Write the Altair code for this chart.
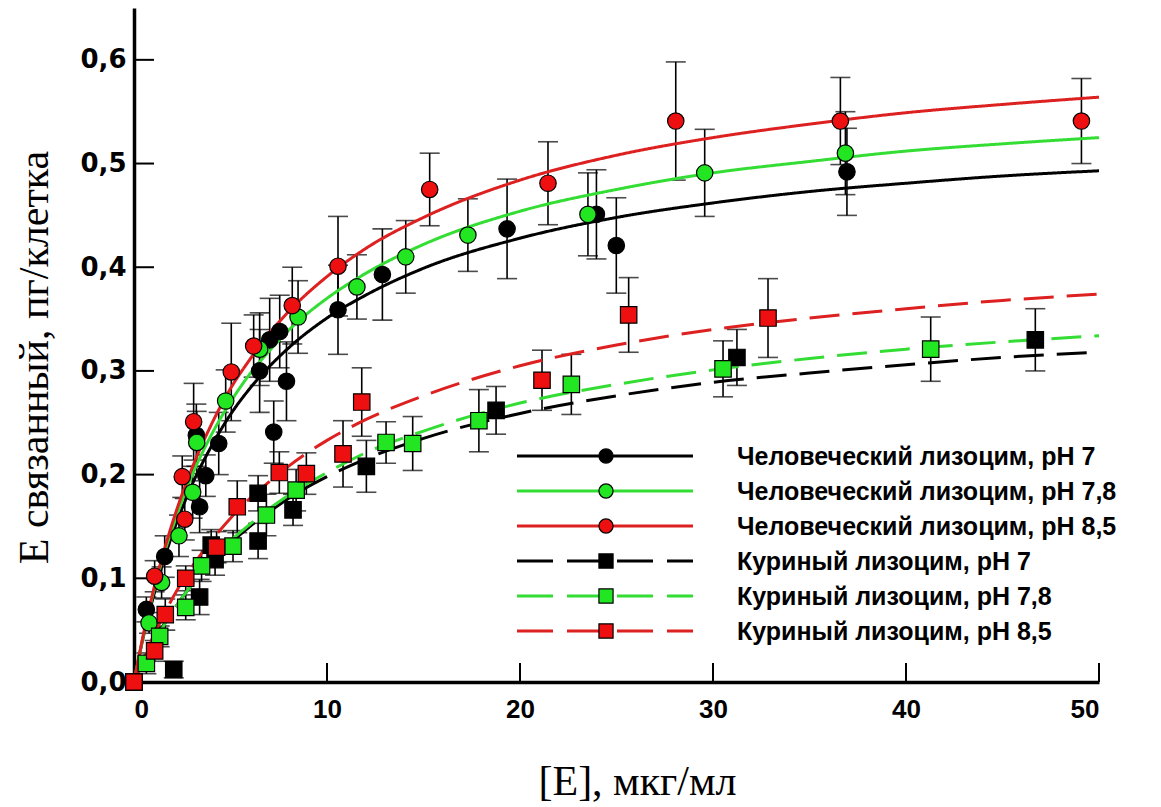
import altair as alt
import pandas as pd

# ---------------- data ----------------
series_names = [
    "Человеческий лизоцим, pH 7",
    "Человеческий лизоцим, pH 7,8",
    "Человеческий лизоцим, pH 8,5",
    "Куриный лизоцим, pH 7",
    "Куриный лизоцим, pH 7,8",
    "Куриный лизоцим, pH 8,5",
]

# fitted curves (read at these concentrations)
curve_x = [0, 0.5, 1, 1.5, 2, 3, 4, 5, 6, 7, 8, 10, 12, 15, 20, 25, 30, 35, 40, 45, 50]
hum7_curve = [0, 0.045, 0.082, 0.115, 0.143, 0.190, 0.227, 0.258, 0.283, 0.304, 0.322, 0.351, 0.373, 0.399, 0.428, 0.448, 0.462, 0.473, 0.481, 0.488, 0.493]
hum78_curve = [0, 0.046, 0.086, 0.120, 0.149, 0.199, 0.238, 0.270, 0.297, 0.319, 0.339, 0.370, 0.394, 0.422, 0.454, 0.475, 0.491, 0.502, 0.512, 0.519, 0.525]
hum85_curve = [0, 0.047, 0.088, 0.123, 0.154, 0.206, 0.248, 0.283, 0.311, 0.336, 0.357, 0.391, 0.418, 0.448, 0.484, 0.508, 0.525, 0.538, 0.549, 0.557, 0.564]
chk7_curve = [0, 0.020, 0.038, 0.054, 0.068, 0.094, 0.116, 0.134, 0.150, 0.164, 0.177, 0.198, 0.215, 0.235, 0.259, 0.276, 0.289, 0.298, 0.306, 0.313, 0.318]
chk78_curve = [0, 0.020, 0.037, 0.053, 0.068, 0.094, 0.116, 0.136, 0.152, 0.167, 0.180, 0.202, 0.221, 0.242, 0.269, 0.287, 0.301, 0.312, 0.321, 0.328, 0.334]
chk85_curve = [0, 0.023, 0.044, 0.063, 0.081, 0.111, 0.136, 0.158, 0.177, 0.193, 0.208, 0.233, 0.253, 0.276, 0.305, 0.325, 0.340, 0.351, 0.360, 0.368, 0.374]

# measured points: x, y, error
hum7_x = [0, 0.64, 1.59, 3.4, 3.72, 3.23, 4.39, 6.51, 7.03, 7.24, 7.55, 7.9, 10.57, 12.87, 19.33, 23.96, 24.99, 36.94]
hum7_y = [0, 0.070, 0.121, 0.169, 0.199, 0.238, 0.230, 0.300, 0.330, 0.241, 0.338, 0.290, 0.359, 0.393, 0.437, 0.451, 0.421, 0.492]
hum7_e = [0, 0.012, 0.020, 0.025, 0.020, 0.030, 0.030, 0.040, 0.040, 0.030, 0.035, 0.038, 0.043, 0.044, 0.048, 0.043, 0.046, 0.042]

hum78_x = [0, 0.78, 1.43, 2.33, 3.04, 3.25, 4.75, 6.51, 8.5, 11.55, 14.08, 17.3, 23.52, 29.57, 36.86]
hum78_y = [0, 0.057, 0.096, 0.141, 0.183, 0.231, 0.271, 0.321, 0.352, 0.381, 0.410, 0.431, 0.451, 0.491, 0.510]
hum78_e = [0, 0.010, 0.015, 0.020, 0.025, 0.030, 0.030, 0.035, 0.035, 0.031, 0.035, 0.035, 0.040, 0.042, 0.040]

hum85_x = [0, 1.07, 2.5, 2.63, 3.09, 5.04, 6.2, 8.2, 10.57, 15.32, 21.45, 28.07, 36.6, 49.09]
hum85_y = [0, 0.102, 0.198, 0.157, 0.251, 0.299, 0.324, 0.363, 0.401, 0.475, 0.481, 0.541, 0.541, 0.541]
hum85_e = [0, 0.015, 0.020, 0.020, 0.037, 0.047, 0.030, 0.037, 0.048, 0.035, 0.040, 0.057, 0.042, 0.041]

chk7_x = [0, 2.06, 3.4, 4.0, 4.2, 6.43, 6.43, 8.24, 12.04, 18.76, 31.24, 46.7]
chk7_y = [0, 0.012, 0.082, 0.132, 0.118, 0.136, 0.182, 0.166, 0.208, 0.262, 0.313, 0.330]
chk7_e = [0, 0.008, 0.017, 0.015, 0.015, 0.017, 0.017, 0.015, 0.025, 0.023, 0.027, 0.030]

chk78_x = [0, 0.64, 1.33, 2.68, 3.5, 5.13, 6.86, 8.4, 13.06, 14.44, 17.87, 22.66, 30.52, 41.28]
chk78_y = [0, 0.018, 0.044, 0.072, 0.112, 0.131, 0.161, 0.185, 0.231, 0.230, 0.252, 0.287, 0.302, 0.321]
chk78_e = [0, 0.010, 0.010, 0.012, 0.015, 0.015, 0.020, 0.020, 0.020, 0.026, 0.030, 0.029, 0.027, 0.031]

chk85_x = [0, 1.07, 1.62, 2.68, 4.28, 5.35, 7.53, 8.93, 10.83, 11.8, 21.14, 25.63, 32.85]
chk85_y = [0, 0.030, 0.065, 0.100, 0.130, 0.169, 0.202, 0.201, 0.220, 0.270, 0.291, 0.354, 0.351]
chk85_e = [0, 0.010, 0.015, 0.012, 0.015, 0.025, 0.020, 0.020, 0.032, 0.033, 0.029, 0.036, 0.038]

x_ticks = [0, 10, 20, 30, 40, 50]
y_ticks = [0.0, 0.1, 0.2, 0.3, 0.4, 0.5, 0.6]

# ---------------- styling ----------------
line_colors = ["#000000", "#33DD33", "#DD2020", "#000000", "#33DD33", "#DD2020"]
fill_colors = ["#000000", "#22E622", "#EE1010", "#000000", "#22E622", "#EE1010"]
shapes = ["circle", "circle", "circle", "square", "square", "square"]
dashes = [[1, 0], [1, 0], [1, 0], [30, 13], [30, 13], [30, 13]]

curves = [hum7_curve, hum78_curve, hum85_curve, chk7_curve, chk78_curve, chk85_curve]
pts = [
    (hum7_x, hum7_y, hum7_e), (hum78_x, hum78_y, hum78_e), (hum85_x, hum85_y, hum85_e),
    (chk7_x, chk7_y, chk7_e), (chk78_x, chk78_y, chk78_e), (chk85_x, chk85_y, chk85_e),
]

curve_rows = []
for name, cy in zip(series_names, curves):
    for xv, yv in zip(curve_x, cy):
        curve_rows.append({"series": name, "x": xv, "y": yv})
curve_df = pd.DataFrame(curve_rows)

pt_rows = []
for name, (px, py, pe) in zip(series_names, pts):
    for xv, yv, ev in zip(px, py, pe):
        pt_rows.append({"series": name, "x": xv, "y": yv, "lo": yv - ev, "hi": yv + ev, "err": ev})
pt_df = pd.DataFrame(pt_rows)
err_df = pt_df[pt_df["err"] > 0]

W, H = 965, 674
xs = alt.Scale(domain=[0, 50], nice=False, zero=False)
ys = alt.Scale(domain=[0, 0.65], nice=False, zero=False)

xaxis = alt.Axis(
    title="[E], мкг/мл", values=x_ticks, format="d", ticks=False, grid=False,
    domainWidth=3.5, domainColor="black",
    labelFont="Liberation Sans", labelFontWeight="bold",
    labelFontSize=26, labelColor="black", labelPadding=14,
    titleFont="Liberation Serif", titleFontSize=42, titleFontWeight="normal",
    titleColor="black", titleX=503, titleY=112, titleBaseline="alphabetic",
)
yaxis = alt.Axis(
    title="E связанный, пг/клетка", values=y_ticks,
    labelExpr="replace(format(datum.value, '.1f'), '.', ',')",
    ticks=False, grid=False, domainWidth=3.5, domainColor="black",
    labelFont="DejaVu Sans", labelFontWeight="bold", labelFontSize=26,
    labelColor="black", labelPadding=8,
    titleFont="Liberation Serif", titleFontSize=42, titleFontWeight="normal",
    titleColor="black", titleAngle=270, titleX=-100, titleY=349,
    titleAlign="center", titleBaseline="middle",
)

X = alt.X("x:Q", scale=xs, axis=xaxis)
Y = alt.Y("y:Q", scale=ys, axis=yaxis)

color_s = alt.Scale(domain=series_names, range=line_colors)
fill_s = alt.Scale(domain=series_names, range=fill_colors)
shape_s = alt.Scale(domain=series_names, range=shapes)
dash_s = alt.Scale(domain=series_names, range=dashes)

# inward ticks
xt_df = pd.DataFrame({"x": x_ticks[1:]})
yt_df = pd.DataFrame({"y": y_ticks[1:]})
xtick_layer = alt.Chart(xt_df).mark_rule(color="black", strokeWidth=2).encode(
    x=X, y=alt.value(H), y2=alt.value(H - 19))
ytick_layer = alt.Chart(yt_df).mark_rule(color="black", strokeWidth=2).encode(
    y=Y, x=alt.value(0), x2=alt.value(20))

err_rule = alt.Chart(err_df).mark_rule(color="black", strokeWidth=1.6).encode(
    x=X, y=alt.Y("lo:Q", scale=ys, axis=yaxis), y2="hi:Q")
cap_lo = alt.Chart(err_df).mark_tick(color="black", orient="horizontal", size=20, thickness=1.6).encode(
    x=X, y=alt.Y("lo:Q", scale=ys, axis=yaxis))
cap_hi = alt.Chart(err_df).mark_tick(color="black", orient="horizontal", size=20, thickness=1.6).encode(
    x=X, y=alt.Y("hi:Q", scale=ys, axis=yaxis))

lines = alt.Chart(curve_df).mark_line(strokeWidth=3, interpolate="monotone").encode(
    x=X, y=Y,
    color=alt.Color("series:N", scale=color_s, legend=None),
    strokeDash=alt.StrokeDash("series:N", scale=dash_s, legend=None),
    detail="series:N",
)

points = alt.Chart(pt_df).mark_point(filled=True, size=270, stroke="black", strokeWidth=1.2, opacity=1).encode(
    x=X, y=Y,
    fill=alt.Fill("series:N", scale=fill_s, legend=None),
    shape=alt.Shape("series:N", scale=shape_s, legend=None),
)

# manual legend (pixel positions inside the plot area)
legend_layers = []
leg_x0, leg_x1, leg_mx, leg_tx = 383, 559, 472, 603
for i, name in enumerate(series_names):
    yy = 448 + i * 35
    ldf = pd.DataFrame({"label": [name]})
    base = alt.Chart(ldf)
    dash = [1, 0] if i < 3 else [36, 14]
    legend_layers.append(base.mark_rule(color=line_colors[i], strokeWidth=3, strokeDash=dash).encode(
        x=alt.value(leg_x0), x2=alt.value(leg_x1), y=alt.value(yy)))
    legend_layers.append(base.mark_point(filled=True, size=200, shape=shapes[i], fill=fill_colors[i],
                                         stroke="black", strokeWidth=1.2, opacity=1).encode(
        x=alt.value(leg_mx), y=alt.value(yy)))
    legend_layers.append(base.mark_text(align="left", baseline="middle", font="Liberation Sans",
                                        fontWeight="bold", fontSize=25, color="black").encode(
        x=alt.value(leg_tx), y=alt.value(yy + 1), text="label:N"))

chart = alt.layer(
    xtick_layer, ytick_layer, err_rule, cap_lo, cap_hi, lines, points, *legend_layers
).properties(
    width=W, height=H,
    autosize=alt.AutoSizeParams(type="none"),
    padding={"left": 134, "top": 8, "right": 62, "bottom": 125},
    background="white",
).configure_view(stroke=None)

chart.save("out.html", embed_options={"renderer": "svg", "actions": False})
